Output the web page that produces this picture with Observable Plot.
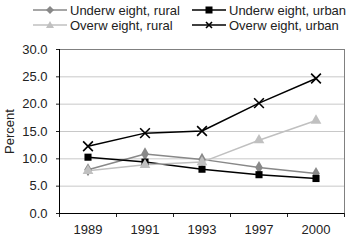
<!DOCTYPE html>
<html><head><meta charset="utf-8">
<script src="https://cdn.jsdelivr.net/npm/d3@7"></script>
<script src="https://cdn.jsdelivr.net/npm/@observablehq/plot@0.6"></script>
<style>
body{margin:0;background:#fff;font-family:"Liberation Sans",Arial,sans-serif;}
#legend{position:relative;width:350px;height:38px;font-size:13px;color:#222}
.item{position:absolute;display:flex;align-items:center;height:14px;white-space:nowrap}
.item svg{margin-right:3px}
</style></head><body>
<div id="legend"></div><div id="chart"></div>
<script>
const years = ["1989","1991","1993","1997","2000"];
const seriesNames = ["Underw eight, rural","Underw eight, urban","Overw eight, rural","Overw eight, urban"];
const underweightRural = [8.0,10.9,9.9,8.4,7.3];
const underweightUrban = [10.3,9.4,8.1,7.1,6.4];
const overweightRural = [7.8,8.9,9.4,13.4,17.0];
const overweightUrban = [12.3,14.7,15.1,20.2,24.7];
const yTicks = [0,5,10,15,20,25,30];

const seriesValues = [underweightRural, underweightUrban, overweightRural, overweightUrban];
const colors = ["#888888","#000000","#c0c0c0","#000000"];
const symbols = ["diamond","square","triangle","times"];

const rows = [];
seriesNames.forEach((s, k) => seriesValues[k].forEach((v, i) => rows.push({series: s, idx: i + 0.5, year: years[i], value: v})));

// legend
const legend = document.getElementById("legend");
const legendPos = [[33,3],[192,3],[33,18],[192,18]];
const symSvg = {
  diamond: c => `<polygon points="17,3 21,7 17,11 13,7" fill="${c}"/>`,
  square: c => `<rect x="13.5" y="3.5" width="7" height="7" fill="${c}"/>`,
  triangle: c => `<polygon points="17,3 21,10 13,10" fill="${c}"/>`,
  times: c => `<path d="M14,4L20,10M20,4L14,10" stroke="${c}" stroke-width="1.6"/>`
};
seriesNames.forEach((s, k) => {
  const d = document.createElement("div");
  d.className = "item";
  d.style.left = legendPos[k][0] + "px";
  d.style.top = legendPos[k][1] + "px";
  d.innerHTML = `<svg width="34" height="14"><line x1="0" x2="34" y1="7" y2="7" stroke="${colors[k]}" stroke-width="1.5"/>${symSvg[symbols[k]](colors[k])}</svg><span>${s}</span>`;
  legend.appendChild(d);
});

const marks = [
  Plot.gridY([5,10,15,20,25], {stroke: "#c8c8c8", strokeOpacity: 1}),
  Plot.ruleY([30], {stroke: "#808080"}),
  Plot.ruleX([5], {stroke: "#808080"}),
  Plot.axisY({ticks: yTicks, tickFormat: d => d.toFixed(1), tickSize: 3, tickPadding: 9, label: "Percent", labelAnchor: "center", labelOffset: 55, labelArrow: "none", fontSize: 13, color: "#222"}),
  Plot.axisX({ticks: [0,1,2,3,4,5], tickFormat: () => "", tickSize: 4, label: null}),
  Plot.axisX({ticks: [0.5,1.5,2.5,3.5,4.5], tickFormat: d => years[Math.floor(d)], tickSize: 0, tickPadding: 11, label: null, fontSize: 13, color: "#222"}),
  Plot.ruleX([0], {stroke: "#000"}),
  Plot.ruleY([0], {stroke: "#000"})
];
seriesNames.forEach((s, k) => {
  const data = rows.filter(r => r.series === s);
  marks.push(Plot.line(data, {x: "idx", y: "value", stroke: colors[k], strokeWidth: 1.5}));
});
seriesNames.forEach((s, k) => {
  const data = rows.filter(r => r.series === s);
  if (symbols[k] === "times")
    marks.push(Plot.dot(data, {x: "idx", y: "value", symbol: () => "times", r: 4.5, stroke: colors[k], strokeWidth: 1.6}));
  else
    marks.push(Plot.dot(data, {x: "idx", y: "value", symbol: () => symbols[k], r: 4, fill: colors[k], stroke: "none"}));
});

const chart = Plot.plot({
  width: 350, height: 202,
  marginTop: 11, marginBottom: 27, marginLeft: 59, marginRight: 6,
  x: {domain: [0, 5]},
  y: {domain: [0, 30]},
  symbol: {type: "identity"},
  style: {fontFamily: "'Liberation Sans', Arial, sans-serif", fontSize: "13px", background: "#fff", color: "#222"},
  marks
});
document.getElementById("chart").appendChild(chart);
</script>
</body></html>
